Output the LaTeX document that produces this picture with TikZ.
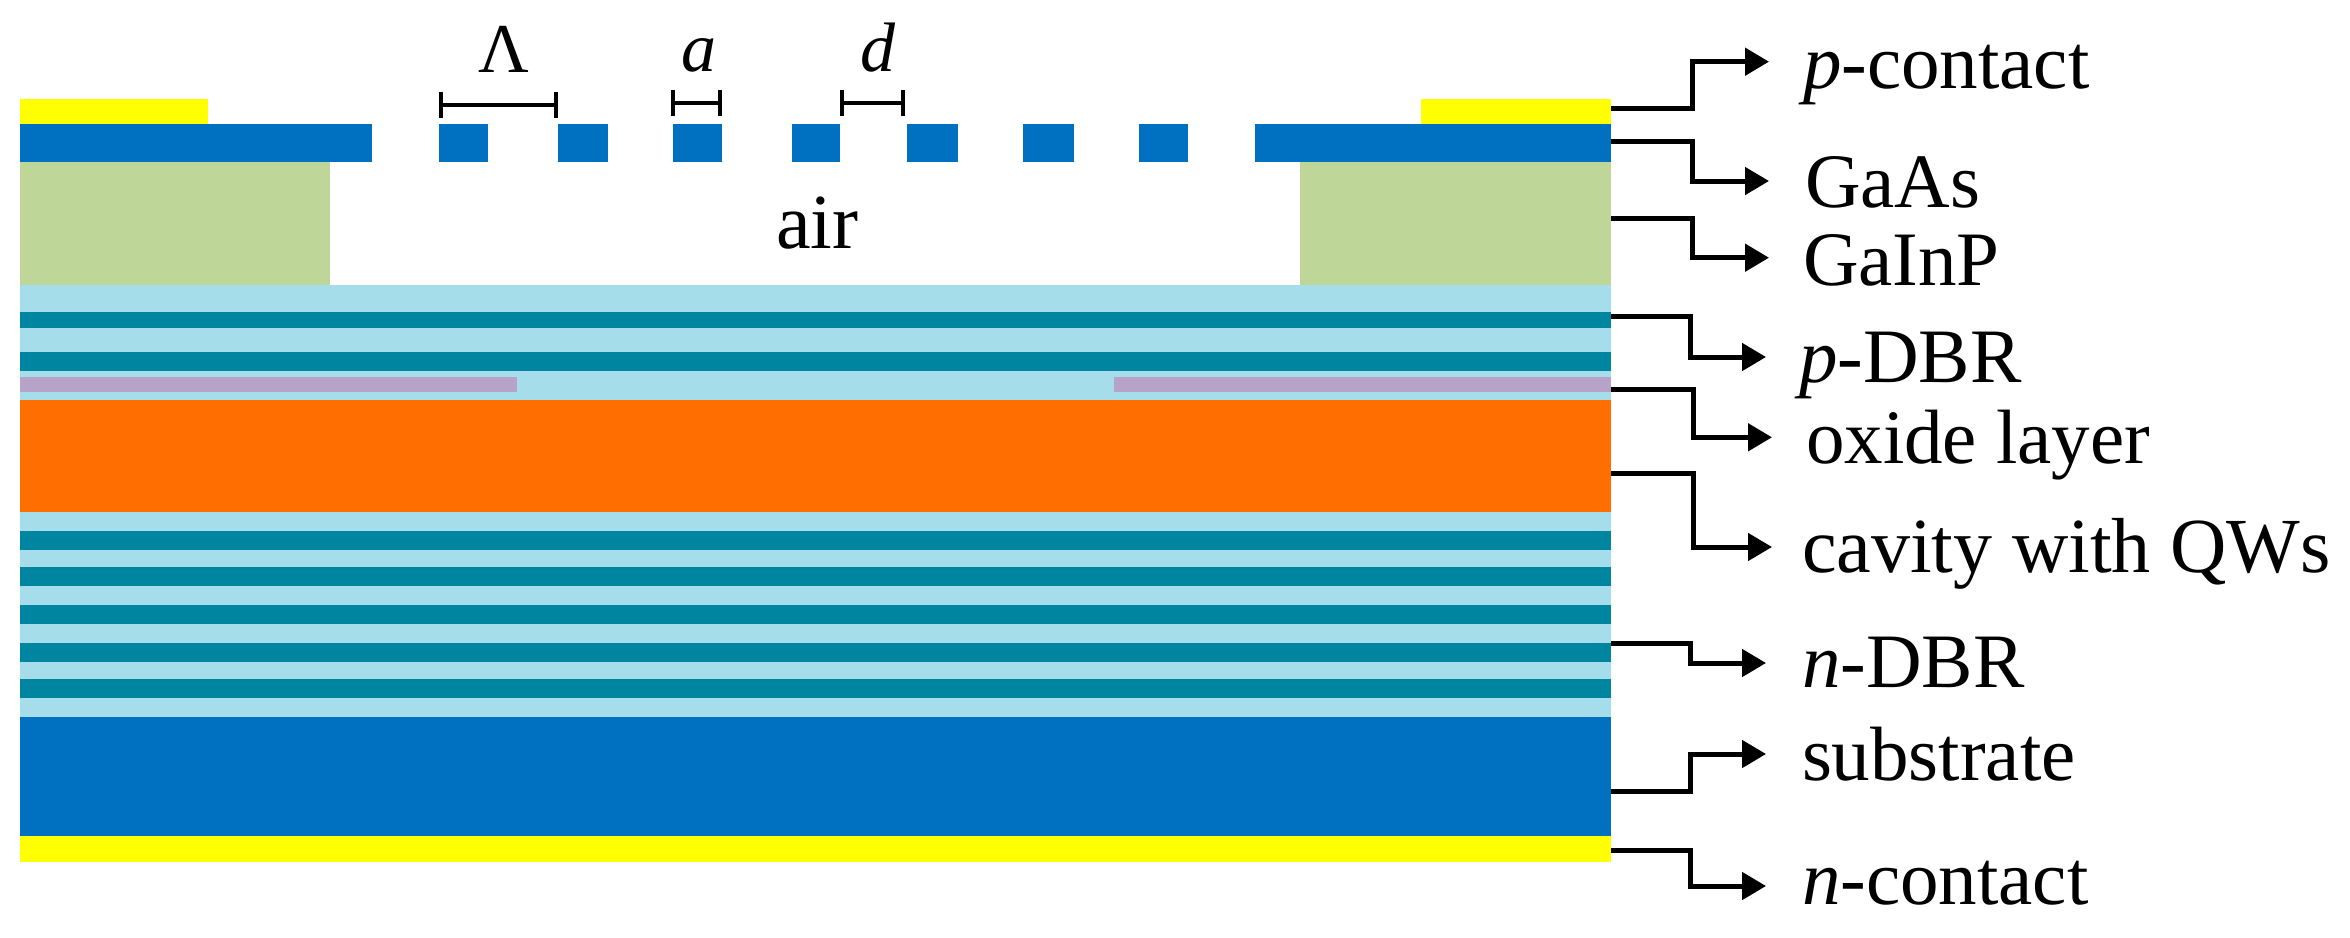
\documentclass[tikz,border=0pt]{standalone}
\usepackage{fontspec}
\setmainfont{Liberation Serif}
\usetikzlibrary{arrows.meta}
\definecolor{cblue}{HTML}{0070C0}
\definecolor{cyell}{HTML}{FFFF00}
\definecolor{cgreen}{HTML}{BED799}
\definecolor{clight}{HTML}{A5DDEA}
\definecolor{cteal}{HTML}{0085A1}
\definecolor{cpurp}{HTML}{B7A2C8}
\definecolor{corange}{HTML}{FF6E00}
\tikzset{
  lab/.style={anchor=base west,inner sep=0pt,outer sep=0pt,font=\fontsize{77}{90}\selectfont},
  smalllab/.style={lab,font=\fontsize{70}{80}\selectfont},
  leader/.style={line width=5pt,black,line join=miter,-{Triangle[length=24pt,width=27pt]}},
  dimspan/.style={line width=4pt,black,{Bar[width=26pt,line width=4pt]}-{Bar[width=26pt,line width=4pt]}}
}
\begin{document}
\begin{tikzpicture}[x=1pt,y=-1pt]
\useasboundingbox (0,0) rectangle (2350,937);
\fill[white] (0,0) rectangle (2350,937);
% contacts
\fill[cyell] (20,99) rectangle (208,124);
\fill[cyell] (1421,99) rectangle (1611,124);
\fill[cyell] (20,836) rectangle (1611,862);
% GaAs grating
\fill[cblue] (20,124) rectangle (372,162);
\foreach \xa/\xb in {439/487.5,557.5/608,673/721.5,791.5/840,907/957.5,1023/1074,1139/1187.5}
  \fill[cblue] (\xa,124) rectangle (\xb,162);
\fill[cblue] (1255,124) rectangle (1611,162);
% GaInP
\fill[cgreen] (20,162) rectangle (329.5,284.5);
\fill[cgreen] (1299.5,162) rectangle (1611,284.5);
% DBR
\fill[clight] (20,284.5) rectangle (1611,400);
\fill[clight] (20,512) rectangle (1611,717);
\foreach \ya/\yb in {311.7/328.3,351.7/370.5,531/550,567.3/586,605/623.7,643/661.7,679/697.7}
  \fill[cteal] (20,\ya) rectangle (1611,\yb);
% oxide
\fill[cpurp] (20,377) rectangle (517,391.7);
\fill[cpurp] (1113.5,377) rectangle (1611,391.7);
% cavity and substrate
\fill[corange] (20,400) rectangle (1611,512);
\fill[cblue] (20,717) rectangle (1611,835.5);
% grating dimensions
\coordinate (la) at (439,105);  \coordinate (lb) at (557.5,105);
\coordinate (aa) at (671,103);  \coordinate (ab) at (722,103);
\coordinate (da) at (840,103);  \coordinate (db) at (905,103);
\draw[dimspan] (la) -- (lb);
\draw[dimspan] (aa) -- (ab);
\draw[dimspan] (da) -- (db);
\node[smalllab] (lLambda) at (478,72.5) {Λ};
\node[smalllab] (la2) at (681,71) {\textit{a}};
\node[smalllab] (ld) at (860,71) {\textit{d}};
\node[lab,font=\fontsize{78}{90}\selectfont] (lair) at (776,248) {air};
% labels
\node[lab] (n1) at (1803,88)  {\textit{p}-contact};
\node[lab] (n2) at (1805,207) {GaAs};
\node[lab] (n3) at (1803,285) {GaInP};
\node[lab] (n4) at (1799,382.5) {\textit{p}-DBR};
\node[lab] (n5) at (1806,463) {oxide layer};
\node[lab,font=\fontsize{78}{90}\selectfont] (n6) at (1802,572.5) {cavity with QWs};
\node[lab] (n7) at (1802,687) {\textit{n}-DBR};
\node[lab] (n8) at (1802,780) {substrate};
\node[lab] (n9) at (1802,904) {\textit{n}-contact};
% leaders
\foreach \nm/\ys/\ye/\xe/\xt in {
  a/108/61.7/1692/1769,
  b/141.7/181/1692/1769,
  c/218/257.7/1692/1769,
  d/316.7/357/1690/1766,
  e/389/437.3/1693/1772,
  f/473/547/1693/1772,
  g/643/663/1690/1766,
  h/791/754/1690/1766,
  i/850/886/1690/1766}{
  \coordinate (s\nm) at (1611,\ys);
  \coordinate (t\nm) at (\xt,\ye);
  \coordinate (k\nm) at (\xe,\ys);
  \draw[leader] (s\nm) -- (k\nm) -- (k\nm |- t\nm) -- (t\nm);
}
\end{tikzpicture}
\end{document}
